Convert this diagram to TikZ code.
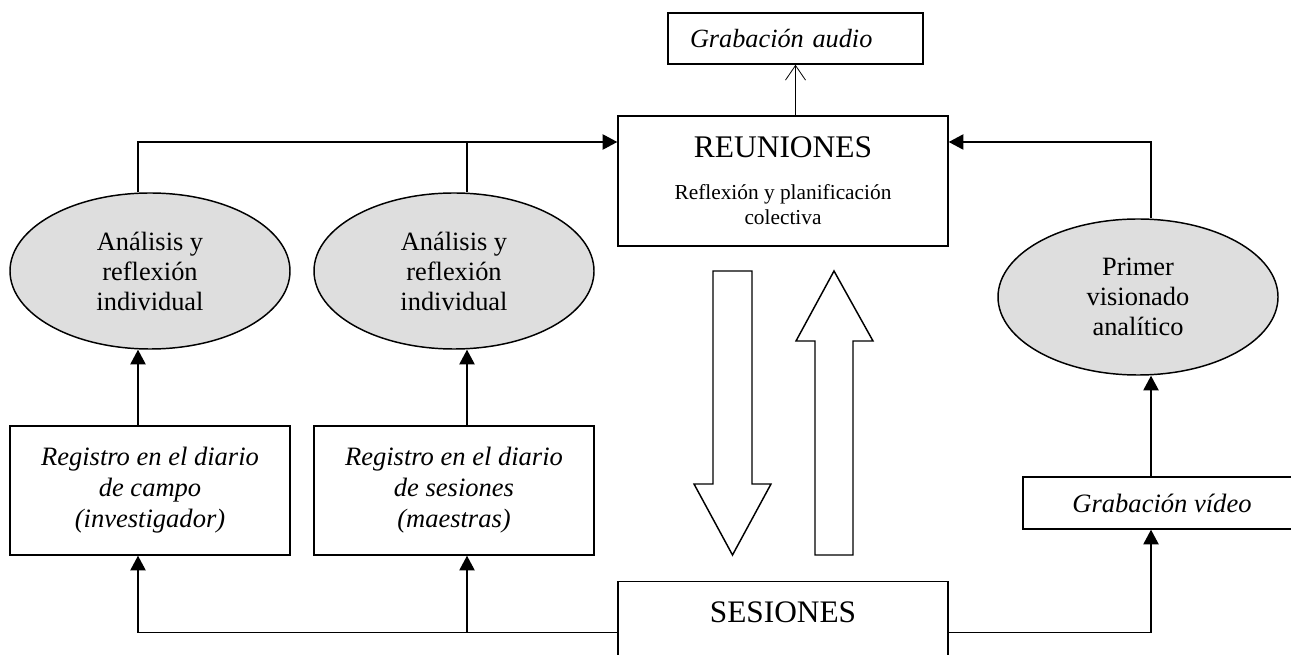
\documentclass[tikz,border=0pt]{standalone}
\usepackage{fontspec}
\setmainfont{Liberation Serif}
\usetikzlibrary{arrows.meta,shapes.geometric}

\begin{document}
\begin{tikzpicture}[x=0.75pt,y=-0.75pt,>={Triangle[length=11pt,width=11.5pt]},line width=1pt,
  box node/.style={rectangle,draw,line width=1.1pt,align=center,inner sep=0pt},
  oval node/.style={ellipse,draw,line width=1.1pt,fill=black!13,align=center,inner sep=0pt,
    minimum width=210pt,minimum height=117pt,font=\fontsize{19.8}{22.5}\selectfont},
  reg node/.style={box node,minimum width=210pt,minimum height=96.75pt,
    font=\fontsize{19.9}{23.25}\selectfont\itshape},
  big arrow/.style={draw,line width=1.1pt,fill=white,line join=miter}]

  \useasboundingbox (0,0) rectangle (1291,655);
  \clip (0,0) rectangle (1291,655);

  \node[box node,text width=158.25pt,align=left,inner xsep=16.5pt,minimum height=38.25pt,
    font=\fontsize{19.7}{22}\selectfont\itshape] (audio) at (795.5,38.5) {Grabación audio};
  \node[box node,minimum width=247.5pt,minimum height=97.5pt,font=\fontsize{16}{18.75}\selectfont] (reuniones) at (783,181)
    {{\fontsize{23.6}{28}\selectfont REUNIONES}\\[12.75pt]Reflexión y planificación\\colectiva};
  \node[oval node] (analisis1) at (150,271) {Análisis y\\reflexión\\individual};
  \node[oval node] (analisis2) at (454,271) {Análisis y\\reflexión\\individual};
  \node[oval node] (visionado) at (1138,297) {Primer\\visionado\\analítico};
  \node[reg node] (campo) at (150,490.5) {Registro en el diario\\de campo\\(investigador)};
  \node[reg node] (diario) at (454,490.5) {Registro en el diario\\de sesiones\\(maestras)};
  \node[box node,minimum width=208.5pt,minimum height=39pt,
    font=\fontsize{19.9}{23}\selectfont\itshape] (video) at (1162,503) {Grabación vídeo};
  \node[box node,anchor=north,minimum width=247.5pt,text height=16pt,text depth=31pt,inner ysep=14.75pt,
    font=\fontsize{23.5}{28}\selectfont] (sesiones) at (783,581) {SESIONES};

  \coordinate (col1) at (138,142);
  \coordinate (col2) at (467,142);
  \coordinate (col3) at (1151,142);

  \draw[big arrow] (713,271) -- (752,271) -- (752,484) -- (771,484) -- (732.5,555) -- (694,484) -- (713,484) -- cycle;
  \draw[big arrow] (834,271) -- (873,341) -- (853,341) -- (853,555) -- (815,555) -- (815,341) -- (796,341) -- cycle;

\draw[-{Straight Barb[length=11pt,width=15pt]},line width=0.6pt] (reuniones.north -| audio.south) -- (audio.south);
\draw[->] (analisis1.north -| col1) -- (col1) -- (reuniones.west |- col1);
\draw (analisis2.north -| col2) -- (col2);
\draw[->] (visionado.north -| col3) |- (reuniones.east |- col3);
\draw[->] (campo.north -| col1) -- (analisis1.south -| col1);
\draw[->] (diario.north -| col2) -- (analisis2.south -| col2);
\draw[->] (video.north -| col3) -- (visionado.south -| col3);
\draw[->] (sesiones.west) -| (campo.south -| col1);
\draw[->] (sesiones.west -| col2) -- (diario.south -| col2);
\draw[->] (sesiones.east) -| (video.south -| col3);
\end{tikzpicture}
\end{document}
